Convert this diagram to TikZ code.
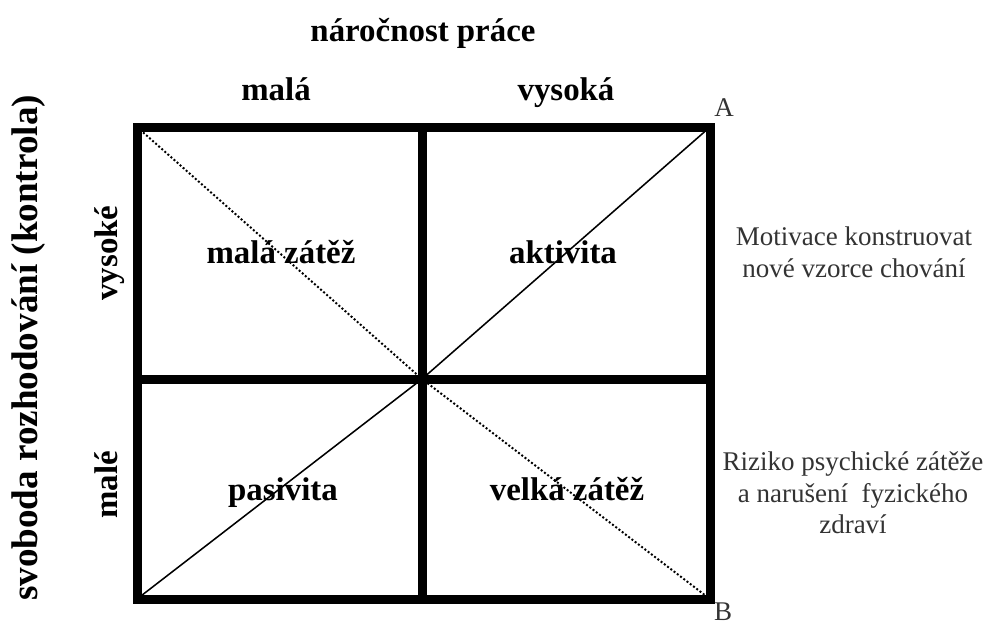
\documentclass[tikz,border=0pt]{standalone}
\usepackage{fontspec}
\setmainfont{Liberation Serif}
\usetikzlibrary{positioning}

\begin{document}
\begin{tikzpicture}[
    nadpis/.style={
        font=\fontsize{23.4}{28}\selectfont\bfseries,
        inner sep=0pt
    },
    popis/.style={
        font=\fontsize{19.2}{22.5}\selectfont,
        text=black!80, align=center, inner sep=0pt
    },
    mrizka/.style={line width=6.4pt},
    plna/.style={line width=1.1pt},
    teckovana/.style={line width=1.4pt, dash pattern=on 1.4pt off 1.5pt},
]

\useasboundingbox (0,0) rectangle (24.8,-15.7);

% Rohy a stred
\coordinate (lh) at (3.425,-3.175);
\coordinate (ph) at (17.75,-3.175);
\coordinate (ld) at (3.425,-14.975);
\coordinate (pd) at (17.75,-14.975);
\coordinate (hs) at (10.55,-3.175);
\coordinate (ds) at (10.55,-14.975);
\coordinate (ls) at (3.425,-9.475);
\coordinate (ps) at (17.75,-9.475);
\coordinate (stred) at (10.55,-9.475);

% Uhlopricky
\draw[teckovana] (lh) -- (stred) -- (pd);
\draw[plna] (ld) -- (stred) -- (ph);

% Mrizka
\draw[mrizka] (lh) rectangle (pd);
\draw[mrizka] (hs) -- (ds);
\draw[mrizka] (ls) -- (ps);

% Osy
\node[nadpis, anchor=base] (narocnost) at (10.575,-1.025) {náročnost práce};
\node[nadpis, anchor=base] (mala)      at (6.9,-2.5)     {malá};
\node[nadpis, anchor=base] (vysoka)    at (14.15,-2.5)   {vysoká};

\node[nadpis, anchor=base, rotate=90, font=\fontsize{26.4}{30}\selectfont\bfseries]
    (svoboda) at (0.95,-8.7) {svoboda rozhodování (kontrola)};
\node[nadpis, anchor=base, rotate=90] (vysoke) at (2.925,-6.325)  {vysoké};
\node[nadpis, anchor=base, rotate=90] (male)   at (2.925,-12.125) {malé};

% Kvadranty
\node[nadpis, anchor=base] (malazatez)  at (7.025,-6.575)  {malá zátěž};
\node[nadpis, anchor=base] (aktivita)   at (14.075,-6.575) {aktivita};
\node[nadpis, anchor=base] (pasivita)   at (7.075,-12.5)   {pasivita};
\node[nadpis, anchor=base] (velkazatez) at (14.175,-12.5)  {velká zátěž};

% Body A, B
\node[popis, anchor=base] (a) at (18.1,-2.9)   {A};
\node[popis, anchor=base] (b) at (18.075,-15.5) {B};

% Popisy vpravo
\node[popis] (motivace) at (21.35,-6.3125)
    {Motivace konstruovat\\nové vzorce chování};
\node[popis] (riziko) at (21.325,-12.325)
    {Riziko psychické zátěže\\a narušení\ \ fyzického\\zdraví};

\end{tikzpicture}
\end{document}
